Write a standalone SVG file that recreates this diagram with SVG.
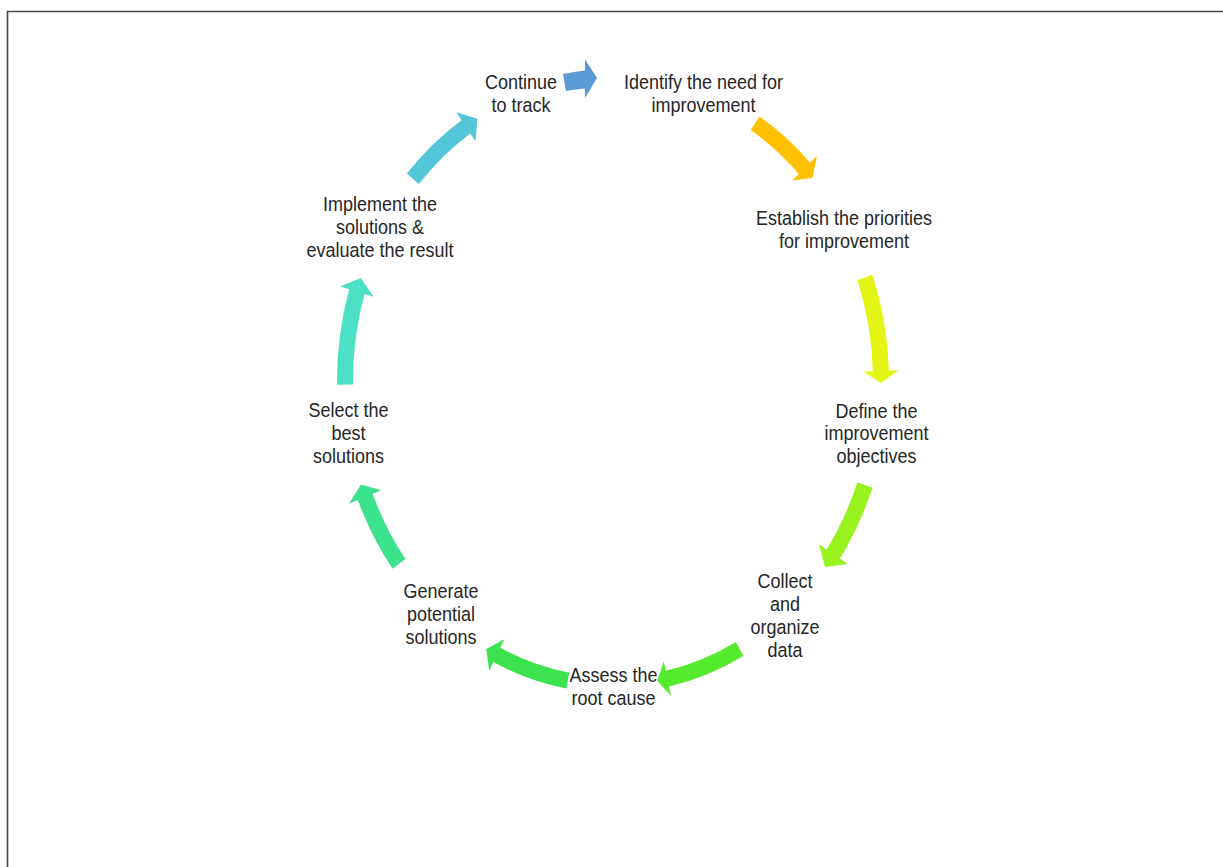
<svg xmlns="http://www.w3.org/2000/svg" width="1223" height="867" viewBox="0 0 1223 867">
<style>
.lbl{font-family:"Liberation Sans",Arial,sans-serif;font-size:19.5px;fill:#262626;text-anchor:middle}
.frame{fill:none;stroke:#454545;stroke-width:1.6}
.arr{stroke:none}
</style>
<rect x="0" y="0" width="1223" height="867" fill="#ffffff"/>
<path class="frame" d="M7.5,867 V11.5 H1223"/>
<g id="connectors">
<path class="arr" fill="#5B9BD5" d="M563,74 A277,313 0 0 1 585,70.5 L585,59.5 L597,78 L585,98 L585,88.5 A259,295 0 0 0 566,91 Z"/>
<path class="arr" fill="#FFC000" d="M759.3,116.4 A276,312 0 0 1 810.2,162.7 L817,156 L812.5,178 L792,180.5 L798.8,173.9 A260,296 0 0 0 750.8,130 Z"/>
<path class="arr" fill="#E2F514" d="M872.5,274.8 A276,312 0 0 1 888.9,370.6 L898.4,370.3 L881,383.1 L863.4,371.5 L872.9,371.2 A260,296 0 0 0 857.5,280.2 Z"/>
<path class="arr" fill="#98F21E" d="M872.4,487.7 A276,312 0 0 1 839.9,558.6 L847.7,564 L825,566.9 L818.9,544.1 L826.7,549.5 A260,296 0 0 0 857.3,482.2 Z"/>
<path class="arr" fill="#55EA2C" d="M743.4,656 A276,312 0 0 1 669,686.5 L670.9,695.8 L657.2,680.8 L663.8,661.5 L665.7,670.8 A260,296 0 0 0 735.9,641.9 Z"/>
<path class="arr" fill="#3BE44E" d="M566.5,688.5 A276,312 0 0 1 493.3,662.1 L489.2,670.7 L486.3,648.9 L504.4,639.2 L500.2,647.7 A260,296 0 0 0 569.2,672.8 Z"/>
<path class="arr" fill="#3DE38C" d="M392.6,568.8 A276,312 0 0 1 357.8,499.9 L349.1,503.5 L361,484.5 L381.4,490.2 L372.6,493.8 A260,296 0 0 0 405.4,559.1 Z"/>
<path class="arr" fill="#4CE0C4" d="M337,384.8 A276,312 0 0 1 349.2,289.3 L340.1,286.5 L360.8,278 L373.6,296.8 L364.5,294 A260,296 0 0 0 353,384.6 Z"/>
<path class="arr" fill="#53C6D9" d="M406.9,173.5 A276,312 0 0 1 461.5,120.2 L456.3,112.3 L477.4,118.8 L475.5,141.5 L470.3,133.6 A260,296 0 0 0 418.9,184.1 Z"/>
</g>
<g id="node1" transform="translate(703.5,0) scale(0.923,1)"><text class="lbl" x="0" y="89">Identify the need for</text><text class="lbl" x="0" y="112">improvement</text></g>
<g id="node2" transform="translate(844,0) scale(0.923,1)"><text class="lbl" x="0" y="225">Establish the priorities</text><text class="lbl" x="0" y="248">for improvement</text></g>
<g id="node3" transform="translate(876.5,0) scale(0.923,1)"><text class="lbl" x="0" y="418">Define the</text><text class="lbl" x="0" y="440.5">improvement</text><text class="lbl" x="0" y="463">objectives</text></g>
<g id="node4" transform="translate(785,0) scale(0.923,1)"><text class="lbl" x="0" y="588">Collect</text><text class="lbl" x="0" y="611">and</text><text class="lbl" x="0" y="634">organize</text><text class="lbl" x="0" y="657">data</text></g>
<g id="node5" transform="translate(613.5,0) scale(0.923,1)"><text class="lbl" x="0" y="682">Assess the</text><text class="lbl" x="0" y="705">root cause</text></g>
<g id="node6" transform="translate(441,0) scale(0.923,1)"><text class="lbl" x="0" y="598">Generate</text><text class="lbl" x="0" y="621">potential</text><text class="lbl" x="0" y="644">solutions</text></g>
<g id="node7" transform="translate(348.5,0) scale(0.923,1)"><text class="lbl" x="0" y="417">Select the</text><text class="lbl" x="0" y="440">best</text><text class="lbl" x="0" y="463">solutions</text></g>
<g id="node8" transform="translate(380,0) scale(0.923,1)"><text class="lbl" x="0" y="211">Implement the</text><text class="lbl" x="0" y="234">solutions &amp;</text><text class="lbl" x="0" y="257">evaluate the result</text></g>
<g id="node9" transform="translate(521,0) scale(0.923,1)"><text class="lbl" x="0" y="89">Continue</text><text class="lbl" x="0" y="112">to track</text></g>
</svg>
